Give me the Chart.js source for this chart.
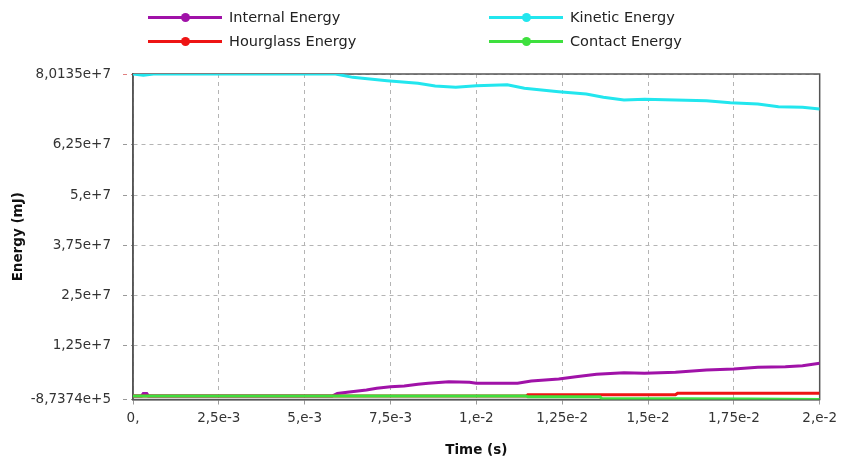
<!DOCTYPE html>
<html>
<head>
<meta charset="utf-8">
<script src="https://cdn.jsdelivr.net/npm/chart.js@4/dist/chart.umd.min.js"></script>
<style>
  html, body { margin: 0; padding: 0; background: #fff; }
  #wrap { position: relative; width: 843px; height: 463px; }
  #legend { position: absolute; left: 0; top: 0; width: 843px; height: 60px;
            font-family: "DejaVu Sans", sans-serif; font-size: 14.5px; color: #222; }
  .item { position: absolute; height: 20px; display: flex; align-items: center; white-space: nowrap; }
  .swatch { position: relative; width: 74px; height: 20px; margin-right: 7px; }
  .swatch .ln { position: absolute; left: 0; right: 0; top: 8.5px; height: 3px; }
  .swatch .dot { position: absolute; left: 33px; top: 6px; width: 9px; height: 9px; border-radius: 50%; }
</style>
</head>
<body>
<div id="wrap">
  <canvas id="c" width="843" height="463"></canvas>
  <div id="legend"></div>
</div>
<script>
// Axis ticks
const xTickValues = [0, 0.0025, 0.005, 0.0075, 0.01, 0.0125, 0.015, 0.0175, 0.02];
const xTickLabels = ['0,', '2,5e-3', '5,e-3', '7,5e-3', '1,e-2', '1,25e-2', '1,5e-2', '1,75e-2', '2,e-2'];
const yTickValues = [-873740, 12500000, 25000000, 37500000, 50000000, 62500000, 80135000];
const yTickLabels = ['-8,7374e+5', '1,25e+7', '2,5e+7', '3,75e+7', '5,e+7', '6,25e+7', '8,0135e+7'];

// Series names and colours
const seriesNames = ['Internal Energy', 'Kinetic Energy', 'Hourglass Energy', 'Contact Energy'];
const seriesColors = ['#a012a8', '#22e6ee', '#ee1414', '#3ee03e'];

// Internal energy (mJ) against time (s)
const internalT = [0, 0.00025, 0.0003, 0.0004, 0.00045, 0.0058, 0.00595, 0.0063, 0.0068, 0.0071, 0.0075, 0.0079,
                   0.0083, 0.0086, 0.0092, 0.0098, 0.0100, 0.0112, 0.0116, 0.0124, 0.0129, 0.0135, 0.0143,
                   0.0149, 0.0158, 0.0167, 0.0175, 0.0182, 0.0190, 0.0195, 0.0200];
const internalE = [0, 0, 0.6e6, 0.6e6, 0, 0, 0.6e6, 1.0e6, 1.49e6, 1.92e6, 2.32e6, 2.49e6,
                   2.91e6, 3.16e6, 3.56e6, 3.41e6, 3.16e6, 3.16e6, 3.74e6, 4.23e6, 4.8e6, 5.4e6, 5.8e6,
                   5.65e6, 5.9e6, 6.47e6, 6.72e6, 7.15e6, 7.3e6, 7.54e6, 8.14e6];

// Kinetic energy (mJ)
const kineticT = [0, 0.0003, 0.0006, 0.0059, 0.0064, 0.0074, 0.0083, 0.0088, 0.0094, 0.0100, 0.0109, 0.0114,
                  0.0124, 0.0132, 0.0137, 0.0143, 0.0149, 0.0158, 0.0167, 0.0174, 0.0182, 0.0188, 0.0195, 0.0200];
const kineticE = [80.135e6, 79.85e6, 80.135e6, 80.135e6, 79.3e6, 78.47e6, 77.82e6, 77.15e6, 76.83e6, 77.22e6,
                  77.47e6, 76.57e6, 75.73e6, 75.15e6, 74.33e6, 73.66e6, 73.83e6, 73.66e6, 73.49e6, 72.99e6,
                  72.67e6, 71.99e6, 71.85e6, 71.42e6];

// Hourglass energy (mJ)
const hourglassT = [0, 0.01145, 0.0115, 0.0158, 0.01586, 0.0200];
const hourglassE = [0, 0, 0.3e6, 0.3e6, 0.67e6, 0.67e6];

// Contact energy (mJ)
const contactT = [0, 0.01145, 0.0115, 0.0136, 0.01365, 0.0180, 0.0200];
const contactE = [0, 0, -0.2e6, -0.2e6, -0.65e6, -0.75e6, -873740];

const times = [internalT, kineticT, hourglassT, contactT];
const energies = [internalE, kineticE, hourglassE, contactE];
// contact drawn on top, kinetic at the bottom of the stack
const drawOrder = [2, 3, 1, 0];

const datasets = seriesNames.map((name, s) => ({
  label: name,
  data: times[s].map((t, i) => ({ x: t, y: energies[s][i] })),
  borderColor: seriesColors[s],
  backgroundColor: seriesColors[s],
  borderWidth: 3,
  pointRadius: 0,
  tension: 0,
  fill: false,
  order: drawOrder[s]
}));

// Solid frame around the plot area (the axis borders carry the grid dash)
const framePlugin = {
  id: 'frame',
  beforeDatasetsDraw(chart) {
    const { ctx, chartArea: a } = chart;
    ctx.save();
    ctx.setLineDash([]);
    ctx.strokeStyle = '#555';
    ctx.lineWidth = 1.5;
    ctx.strokeRect(a.left, a.top, a.right - a.left, a.bottom - a.top);
    ctx.restore();
  }
};

const tickFont = { family: 'DejaVu Sans', size: 13.5 };
const titleFont = { family: 'DejaVu Sans', size: 13.5, weight: 'bold' };

const chart = new Chart(document.getElementById('c'), {
  type: 'line',
  data: { datasets },
  options: {
    responsive: false,
    animation: false,
    devicePixelRatio: 1,
    layout: { padding: { top: 74, right: 20, bottom: 0, left: 0 } },
    plugins: { legend: { display: false }, tooltip: { enabled: false } },
    scales: {
      x: {
        type: 'linear',
        min: 0,
        max: 0.02,
        afterBuildTicks: (scale) => { scale.ticks = xTickValues.map(v => ({ value: v })); },
        afterFit: (scale) => { scale.height = 63.5; },
        ticks: {
          autoSkip: false, maxRotation: 0, padding: 6,
          color: '#333', font: tickFont,
          callback: (v, i) => xTickLabels[i]
        },
        grid: {
          color: '#b4b4b4', lineWidth: 1, tickLength: 5,
          tickColor: '#999', tickBorderDash: [4, 4]
        },
        border: { display: true, color: '#555', width: 1.5, dash: [4, 4] },
        title: {
          display: true, text: 'Time (s)', color: '#111', font: titleFont,
          padding: { top: 0, bottom: 4 }
        }
      },
      y: {
        type: 'linear',
        min: -873740,
        max: 80135000,
        afterBuildTicks: (scale) => { scale.ticks = yTickValues.map(v => ({ value: v })); },
        afterFit: (scale) => { scale.width = 133; },
        ticks: {
          autoSkip: false, padding: 12,
          color: '#333', font: tickFont,
          callback: (v, i) => yTickLabels[i]
        },
        grid: {
          color: '#b4b4b4', lineWidth: 1, tickLength: 10,
          tickColor: (ctx) => (ctx.tick && ctx.tick.value === 80135000 ? '#e08080' : '#999'),
          tickBorderDash: [4, 4]
        },
        border: { display: true, color: '#555', width: 1.5, dash: [4, 4] },
        title: {
          display: true, text: 'Energy (mJ)', color: '#111', font: titleFont,
          padding: { top: 10, bottom: 0 }
        }
      }
    }
  },
  plugins: [framePlugin]
});

// Two-column legend above the plot
const legendPos = [
  { left: 148, top: 7 }, { left: 489, top: 7 },
  { left: 148, top: 31 }, { left: 489, top: 31 }
];
const legend = document.getElementById('legend');
chart.data.datasets.forEach((ds, i) => {
  const item = document.createElement('div');
  item.className = 'item';
  item.style.left = legendPos[i].left + 'px';
  item.style.top = legendPos[i].top + 'px';
  const sw = document.createElement('div');
  sw.className = 'swatch';
  const ln = document.createElement('div');
  ln.className = 'ln';
  ln.style.background = ds.borderColor;
  const dot = document.createElement('div');
  dot.className = 'dot';
  dot.style.background = ds.borderColor;
  sw.appendChild(ln);
  sw.appendChild(dot);
  const txt = document.createElement('span');
  txt.textContent = ds.label;
  item.appendChild(sw);
  item.appendChild(txt);
  legend.appendChild(item);
});
</script>
</body>
</html>
